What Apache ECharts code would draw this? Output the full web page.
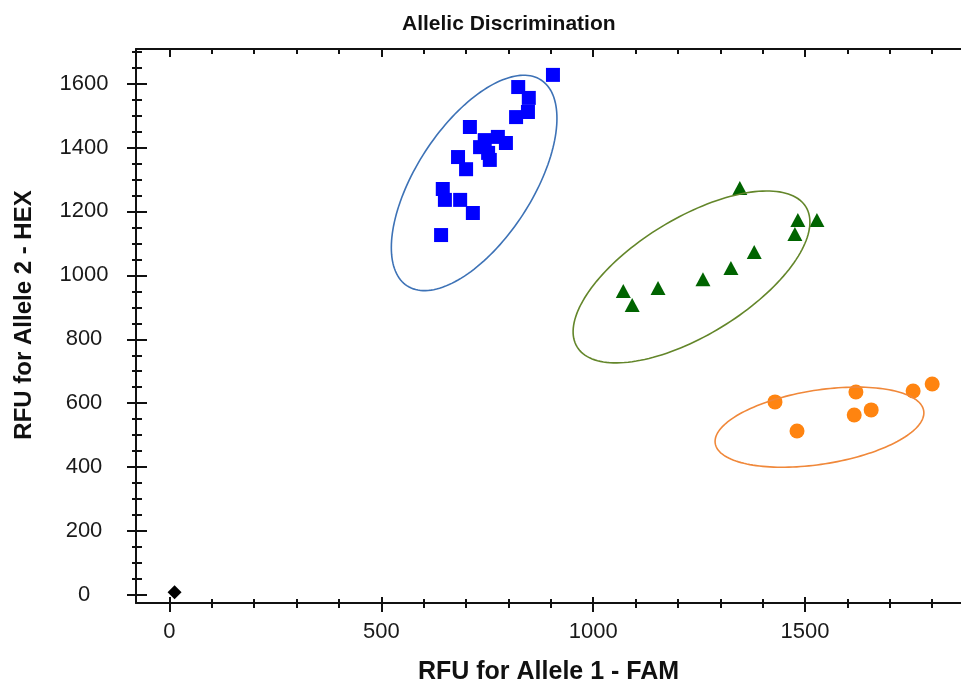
<!DOCTYPE html>
<html>
<head>
<meta charset="utf-8">
<script src="https://cdn.jsdelivr.net/npm/echarts@6/dist/echarts.min.js"></script>
<style>
  html, body { margin: 0; padding: 0; background: #fff; }
  #chart { width: 961px; height: 686px; }
</style>
</head>
<body>
<div id="chart"></div>
<script>
// cluster points: [FAM, HEX]
const allele2Pts = [
  [905, 1627], [823, 1589], [848, 1555], [846, 1511], [818, 1495],
  [709, 1464], [775, 1433], [794, 1414], [733, 1401], [744, 1423],
  [752, 1383], [756, 1361], [681, 1370], [700, 1332], [645, 1270],
  [650, 1236], [686, 1236], [716, 1195], [641, 1126]
]
const heteroPts = [
  [1346, 1273], [1483, 1173], [1528, 1173], [1476, 1129], [1380, 1073],
  [1325, 1023], [1259, 988], [1153, 960], [1071, 951], [1092, 907]
]
const allele1Pts = [
  [1429, 604], [1481, 513], [1620, 635], [1616, 563], [1656, 579],
  [1755, 638], [1800, 660]
]
const ntcPts = [[12, 9]]

// cluster outlines: [centerX, centerY, axis1 dx, dy, axis2 dx, dy] in data units
const ellipses = [
  [719, 1289, 158, 322, 115, -99],
  [1232, 995, 270, 219, 72, -156],
  [1534, 525, 246, 51, 13.5, -114.5]
]
const ellipseColors = ['#3d72b6', '#63862a', '#f0883a']

const xMajor = [0, 500, 1000, 1500]
const xMinor = [100, 200, 300, 400, 600, 700, 800, 900, 1100, 1200, 1300, 1400, 1600, 1700, 1800]
const yMajor = [0, 200, 400, 600, 800, 1000, 1200, 1400, 1600]
const yMinor = [50, 100, 150, 250, 300, 350, 450, 500, 550, 650, 700, 750, 850, 900, 950,
  1050, 1100, 1150, 1250, 1300, 1350, 1450, 1500, 1550, 1650, 1700]

const X_MIN = -79, X_MAX = 1868
const Y_MIN = -25, Y_MAX = 1708
const FONT = "'Liberation Sans', Arial, sans-serif"
const INK = '#111'

function axis(kind, extra) {
  const base = {
    type: 'value',
    min: kind === 'x' ? X_MIN : Y_MIN,
    max: kind === 'x' ? X_MAX : Y_MAX,
    axisLine: { show: false, onZero: false },
    splitLine: { show: false },
    axisLabel: { show: false },
    axisTick: { show: false },
  }
  return Object.assign(base, extra)
}

function ticks(values, len, inside) {
  return {
    show: true,
    customValues: values,
    length: len,
    inside: inside,
    lineStyle: { color: INK, width: 2 },
  }
}

const line = { show: true, onZero: false, lineStyle: { color: INK, width: 2 } }
const labelStyle = { fontFamily: FONT, fontSize: 22, color: '#1a1a1a', formatter: (v) => String(v) }

const chart = echarts.init(document.getElementById('chart'))

chart.setOption({
  animation: false,
  title: {
    text: 'Allelic Discrimination',
    left: 397,
    top: 9,
    textStyle: { fontFamily: FONT, fontSize: 21, fontWeight: 'bold', color: INK },
  },
  grid: { left: 136, top: 49, right: 0, bottom: 83, outerBoundsMode: 'none', containLabel: false },
  xAxis: [
    axis('x', {
      position: 'bottom',
      axisLine: line,
      axisTick: ticks(xMajor, 9, false),
      axisLabel: Object.assign({ show: true, customValues: xMajor, margin: 18 }, labelStyle),
      name: 'RFU for Allele 1 - FAM',
      nameLocation: 'middle',
      nameGap: 57,
      nameTextStyle: { fontFamily: FONT, fontSize: 25, fontWeight: 'bold', color: INK },
    }),
    axis('x', { position: 'bottom', axisTick: ticks(xMajor, 6, true) }),
    axis('x', { position: 'bottom', axisTick: ticks(xMinor, 5, false) }),
    axis('x', { position: 'bottom', axisTick: ticks(xMinor, 4, true) }),
    axis('x', { position: 'top', axisLine: line, axisTick: ticks(xMajor, 8, true) }),
    axis('x', { position: 'top', axisTick: ticks(xMinor, 5, true) }),
  ],
  yAxis: [
    axis('y', {
      position: 'left',
      axisLine: line,
      axisTick: ticks(yMajor, 9, false),
      axisLabel: Object.assign({ show: true, customValues: yMajor, margin: 52, align: 'center' }, labelStyle),
    }),
    axis('y', { position: 'left', axisTick: ticks(yMajor, 11, true) }),
    axis('y', { position: 'left', axisTick: ticks(yMinor, 4, false) }),
    axis('y', { position: 'left', axisTick: ticks(yMinor, 6, true) }),
  ],
  graphic: [{
    type: 'text',
    x: 24,
    y: 315,
    rotation: Math.PI / 2,
    style: {
      text: 'RFU for Allele 2 - HEX',
      font: 'bold 24px ' + FONT,
      fill: INK,
      align: 'center',
      verticalAlign: 'middle',
      textAlign: 'center',
      textVerticalAlign: 'middle',
    },
  }],
  series: [
    {
      type: 'scatter', name: 'Allele 2', data: allele2Pts,
      symbol: 'rect', symbolSize: 14,
      itemStyle: { color: '#0000ff', opacity: 1 },
    },
    {
      type: 'scatter', name: 'Heterozygote', data: heteroPts,
      symbol: 'triangle', symbolSize: [15, 14],
      itemStyle: { color: '#006400', opacity: 1 },
    },
    {
      type: 'scatter', name: 'Allele 1', data: allele1Pts,
      symbol: 'circle', symbolSize: 15,
      itemStyle: { color: '#ff8410', opacity: 1 },
    },
    {
      type: 'scatter', name: 'NTC', data: ntcPts,
      symbol: 'diamond', symbolSize: 14,
      itemStyle: { color: '#000', opacity: 1 },
    },
    {
      type: 'custom',
      data: ellipses,
      encode: { x: 0, y: 1 },
      z: 5,
      silent: true,
      renderItem(params, api) {
        const cx = api.value(0), cy = api.value(1)
        const ux = api.value(2), uy = api.value(3)
        const vx = api.value(4), vy = api.value(5)
        const pts = []
        for (let k = 0; k <= 160; k++) {
          const t = (k / 160) * Math.PI * 2
          pts.push(api.coord([
            cx + ux * Math.cos(t) + vx * Math.sin(t),
            cy + uy * Math.cos(t) + vy * Math.sin(t),
          ]))
        }
        return {
          type: 'polyline',
          shape: { points: pts },
          style: { stroke: ellipseColors[params.dataIndex], lineWidth: 1.6, fill: null },
        }
      },
    },
  ],
})
</script>
</body>
</html>
